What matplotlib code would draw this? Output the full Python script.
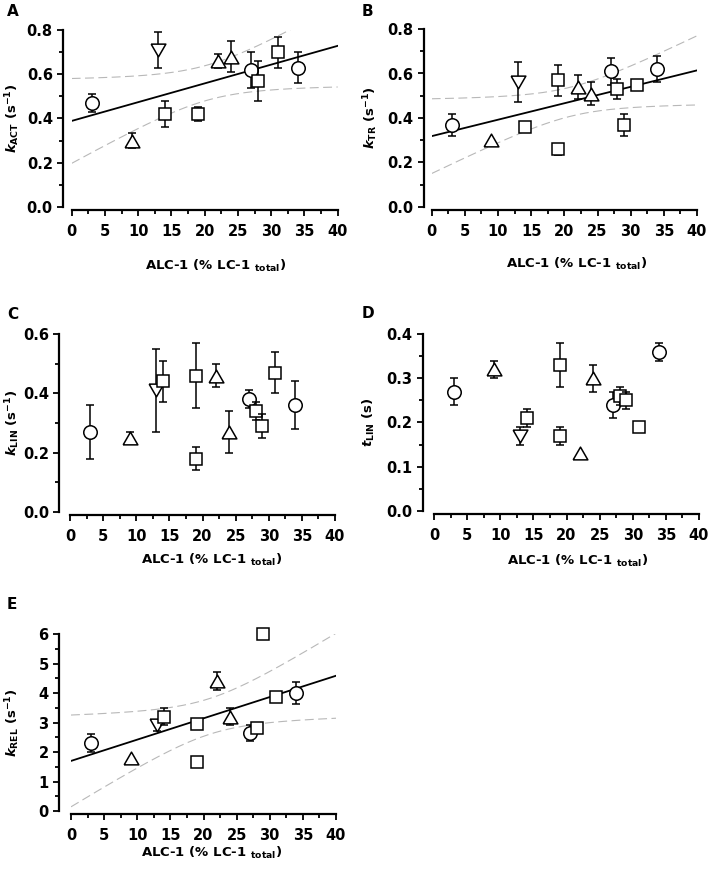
import numpy as np
import matplotlib
matplotlib.use('Agg')
import matplotlib.pyplot as plt
from matplotlib.ticker import MultipleLocator, FormatStrFormatter

nan = np.nan

# ALC-1 content of each sample (% of total LC-1) and the marker of its group
alc1 = [3, 9, 13, 14, 19, 19, 22, 24, 27, 28, 29, 31, 34]
groups = ['o', '^', 'v', 's', 's', 's', '^', '^', 'o', 's', 's', 's', 'o']

k_act = [0.47, 0.30, 0.71, 0.42, 0.42, nan, 0.66, 0.68, 0.62, 0.57, nan, 0.70, 0.63]
k_act_err = [0.04, 0.035, 0.08, 0.06, 0.03, 0, 0.03, 0.07, 0.08, 0.09, 0, 0.07, 0.07]

k_tr = [0.37, 0.30, 0.56, 0.36, 0.57, 0.26, 0.54, 0.51, 0.61, 0.53, 0.37, 0.55, 0.62]
k_tr_err = [0.05, 0, 0.09, 0, 0.07, 0.025, 0.055, 0.05, 0.06, 0.045, 0.05, 0.02, 0.057]

k_lin = [0.27, 0.25, 0.41, 0.44, 0.46, 0.18, 0.46, 0.27, 0.38, 0.34, 0.29, 0.47, 0.36]
k_lin_err = [0.09, 0.02, 0.14, 0.07, 0.11, 0.04, 0.04, 0.07, 0.03, 0.03, 0.04, 0.07, 0.08]

t_lin = [0.27, 0.32, 0.17, 0.21, 0.33, 0.17, 0.13, 0.30, 0.24, 0.26, 0.25, 0.19, 0.36]
t_lin_err = [0.03, 0.02, 0.02, 0.02, 0.05, 0.02, 0, 0.03, 0.03, 0.02, 0.02, 0, 0.02]

k_rel = [2.3, 1.8, 2.9, 3.2, 2.95, 1.65, 4.4, 3.2, 2.65, 2.8, 6.0, 3.85, 4.0]
k_rel_err = [0.3, 0, 0.2, 0.3, 0.15, 0, 0.3, 0.3, 0.27, 0.15, 0, 0.15, 0.38]

# two-sided 95% t values by degrees of freedom
t95 = {9: 2.262, 11: 2.201}

plt.rcParams['font.family'] = 'DejaVu Sans'
plt.rcParams['font.weight'] = 'bold'
plt.rcParams['mathtext.fontset'] = 'custom'
plt.rcParams['mathtext.it'] = 'DejaVu Sans:italic:bold'
plt.rcParams['mathtext.rm'] = 'DejaVu Sans'
plt.rcParams['mathtext.default'] = 'regular'

W, H = 709, 880
fig = plt.figure(figsize=(W / 100, H / 100), dpi=100)

tri_up = [(-1, -0.866), (1, -0.866), (0, 0.866), (-1, -0.866)]
tri_dn = [(-1, 0.866), (1, 0.866), (0, -0.866), (-1, 0.866)]
marker_map = {'o': ('o', 9.7), 's': ('s', 8.6), '^': (tri_up, 10.6), 'v': (tri_dn, 10.6)}

xlab = r'ALC-1 (% LC-1 $_{\mathrm{total}}$)'

# panel: letter, pixel box (x0, x1, ytop, ybottom), values, errors, ymax, major, minor,
# format, ylabel, fit, y-spine offset px, ylabel right edge px, xlabel coords
panels = [
    ('A', (71.7, 337.7, 30, 207), k_act, k_act_err, 0.8, 0.2, 0.1, '%.1f',
     r'$\mathit{k}_{\mathrm{ACT}}$ (s$^{-1}$)', True, 8.5, 22, (0.54, -0.285)),
    ('B', (431.7, 697, 29, 207), k_tr, k_tr_err, 0.8, 0.2, 0.1, '%.1f',
     r'$\mathit{k}_{\mathrm{TR}}$ (s$^{-1}$)', True, 7.7, 380, (0.546, -0.277)),
    ('C', (70, 335, 334, 512), k_lin, k_lin_err, 0.6, 0.2, 0.1, '%.1f',
     r'$\mathit{k}_{\mathrm{LIN}}$ (s$^{-1}$)', False, 10.7, 22, (0.536, -0.223)),
    ('D', (434, 699, 334, 511), t_lin, t_lin_err, 0.4, 0.1, 0.05, '%.1f',
     r'$\mathit{t}_{\mathrm{LIN}}$ (s)', False, 11, 377, (0.5415, -0.237)),
    ('E', (71, 336, 634, 811), k_rel, k_rel_err, 6, 1, 0.5, '%d',
     r'$\mathit{k}_{\mathrm{REL}}$ (s$^{-1}$)', True, 12, 22, (0.532, -0.192)),
]
letter_pos = {'A': (7, 16), 'B': (362, 16), 'C': (7, 319), 'D': (362, 318), 'E': (7, 609)}

for letter, box, vals, errs, ymax, major, minor, fmt, ylab, fit, yoff, yl_px, xlc in panels:
    x0, x1, yt, yb = box
    ax = fig.add_axes([x0 / W, 1 - yb / H, (x1 - x0) / W, (yb - yt) / H])
    ax.set_xlim(0, 40)
    ax.set_ylim(0, ymax)

    x = np.array(alc1, dtype=float)
    y = np.array(vals, dtype=float)
    e = np.array(errs, dtype=float)
    ok = ~np.isnan(y)

    if fit:
        xf, yf = x[ok], y[ok]
        n = len(xf)
        slope, icpt = np.polyfit(xf, yf, 1)
        resid = yf - (icpt + slope * xf)
        s = np.sqrt(np.sum(resid ** 2) / (n - 2))
        sxx = np.sum((xf - xf.mean()) ** 2)
        xs = np.linspace(0, 40, 200)
        ys = icpt + slope * xs
        half = t95[n - 2] * s * np.sqrt(1 / n + (xs - xf.mean()) ** 2 / sxx)
        ax.plot(xs, ys, color='black', lw=1.3, zorder=2)
        for sign in (1, -1):
            ax.plot(xs, ys + sign * half, color='#b8b8b8', lw=0.8,
                    linestyle=(0, (8, 4)), zorder=1)

    z = 3
    for xi, yi, ei, g in zip(x, y, e, groups):
        if np.isnan(yi):
            continue
        if ei > 0:
            ax.errorbar(xi, yi, yerr=ei, fmt='none', ecolor='black', elinewidth=1.1,
                        capsize=3, capthick=1.1, zorder=z)
        m, ms = marker_map[g]
        ax.plot(xi, yi, marker=m, markersize=ms, markerfacecolor='white',
                markeredgecolor='black', markeredgewidth=1.1, linestyle='none',
                zorder=z + 1, clip_on=False)
        z += 2

    for side in ('top', 'right'):
        ax.spines[side].set_visible(False)
    ax.spines['left'].set_position(('outward', yoff * 0.72))
    ax.spines['bottom'].set_position(('outward', 2))
    ax.spines['left'].set_linewidth(1.6)
    ax.spines['bottom'].set_linewidth(1.6)

    ax.xaxis.set_major_locator(MultipleLocator(5))
    ax.xaxis.set_minor_locator(MultipleLocator(2.5))
    ax.yaxis.set_major_locator(MultipleLocator(major))
    ax.yaxis.set_minor_locator(MultipleLocator(minor))
    ax.yaxis.set_major_formatter(FormatStrFormatter(fmt))
    ax.tick_params(which='major', direction='out', length=4.5, width=1.3,
                   labelsize=10.5)
    ax.tick_params(which='minor', direction='out', length=2.8, width=1.3)
    ax.tick_params(axis='x', which='major', pad=6)
    ax.tick_params(axis='y', which='major', pad=3)

    ax.set_ylabel(ylab, fontsize=9.5, fontweight='bold')
    ax.yaxis.set_label_coords((yl_px - x0) / (x1 - x0), 0.5)
    ax.set_xlabel(xlab, fontsize=9.5, fontweight='bold')
    ax.xaxis.set_label_coords(*xlc)

    lx, ly = letter_pos[letter]
    fig.text(lx / W, 1 - ly / H, letter, fontsize=11, fontweight='bold',
             ha='left', va='baseline')

fig.savefig('out.png', dpi=100)
